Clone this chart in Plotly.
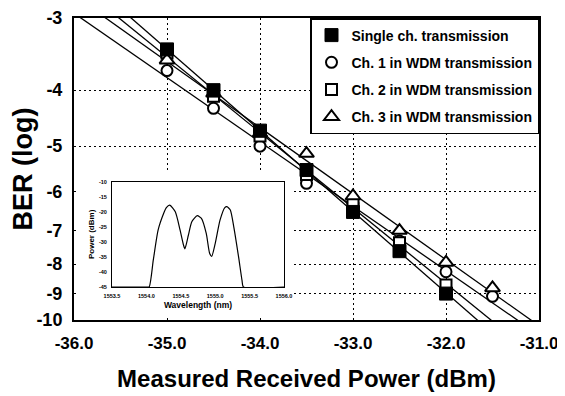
import numpy as np
import plotly.graph_objects as go

# ---------------- data ----------------
power_single = [-35.0, -34.5, -34.0, -33.5, -33.0, -32.5, -32.0]
ber_single = [-3.4, -4.0, -4.7, -5.5, -6.5, -7.6, -9.0]

power_ch1 = [-35.0, -34.5, -34.0, -33.5, -33.0, -32.5, -32.0, -31.5]
ber_ch1 = [-3.7, -4.3, -5.0, -5.8, -6.3, -7.3, -8.25, -9.1]

power_ch2 = [-35.0, -34.5, -34.0, -33.5, -33.0, -32.5, -32.0]
ber_ch2 = [-3.45, -4.1, -4.8, -5.6, -6.3, -7.35, -8.7]

power_ch3 = [-35.0, -34.5, -34.0, -33.5, -33.0, -32.5, -32.0, -31.5]
ber_ch3 = [-3.55, -4.05, -4.75, -5.15, -6.1, -7.0, -7.95, -8.8]

series_names = ["Single ch. transmission", "Ch. 1 in WDM transmission",
                "Ch. 2 in WDM transmission", "Ch. 3 in WDM transmission"]

y_tick_values = [-3, -4, -5, -6, -7, -8, -9, -10]
x_tick_values = [-36.0, -35.0, -34.0, -33.0, -32.0, -31.0]

# inset spectrum
wavelength_nm = [1553.5, 1554.0, 1554.04, 1554.10, 1554.17, 1554.25, 1554.29, 1554.34,
                 1554.42, 1554.49, 1554.54, 1554.56, 1554.61, 1554.66, 1554.74, 1554.80,
                 1554.87, 1554.92, 1554.95, 1555.00, 1555.07, 1555.14, 1555.17, 1555.22,
                 1555.27, 1555.34, 1555.39, 1555.41, 1556.0]
power_dbm = [-45, -45, -45, -36.1, -26.1, -20.6, -18.6, -17.8,
             -20.0, -26.1, -31.1, -32.3, -27.8, -23.3, -21.3, -22.2,
             -27.2, -33.9, -34.8, -30.6, -22.8, -18.6, -18.3, -19.4,
             -25.0, -35.0, -42.8, -45, -45]
inset_x_ticks = [1553.5, 1554.0, 1554.5, 1555.0, 1555.5, 1556.0]
inset_y_ticks = [-10, -15, -20, -25, -30, -35, -40, -45]

FONT = "Arial, Liberation Sans, sans-serif"

fig = go.Figure()

powers = [power_single, power_ch1, power_ch2, power_ch3]
bers = [ber_single, ber_ch1, ber_ch2, ber_ch3]

# fitted lines (linear fit in the axis' own transformed space)
for p, b in zip(powers, bers):
    t = np.log10(-np.array(b, dtype=float))
    k, c = np.polyfit(np.array(p, dtype=float), t, 1)
    xs = np.array([-37.0, -30.0])
    ys = 10 ** (k * xs + c)
    fig.add_trace(go.Scatter(x=xs, y=ys, mode="lines",
                             line=dict(color="black", width=1.3),
                             showlegend=False, hoverinfo="skip"))

marker_styles = [
    dict(symbol="square", size=13, color="black", line=dict(color="black", width=1)),
    dict(symbol="circle", size=11, color="white", line=dict(color="black", width=2)),
    dict(symbol="square", size=11, color="white", line=dict(color="black", width=2)),
    dict(symbol="triangle-up", size=13, color="white", line=dict(color="black", width=2)),
]
draw_order = [1, 2, 3, 0]
for i in draw_order:
    fig.add_trace(go.Scatter(x=powers[i], y=[-v for v in bers[i]], mode="markers",
                             name=series_names[i], marker=marker_styles[i],
                             legendrank=i + 1, legendgroup=f"g{i}"))

# white cover behind the inset (hides main grid)
fig.add_trace(go.Scatter(x=[None], y=[None], xaxis="x2", yaxis="y2",
                         showlegend=False, hoverinfo="skip"))

# inset spectrum
fig.add_trace(go.Scatter(x=wavelength_nm, y=power_dbm, xaxis="x3", yaxis="y3",
                         mode="lines", line=dict(color="black", width=1.2, shape="spline", smoothing=0.6),
                         showlegend=False, hoverinfo="skip"))

# the page body adds an 8px offset, so the figure is 8px smaller and margins compensate
fig.update_layout(
    width=557, height=388,
    margin=dict(l=66, r=26, t=10, b=76),
    paper_bgcolor="white", plot_bgcolor="white",
    font=dict(family=FONT, color="black"),
    showlegend=True,
    legend=dict(x=1, y=1, xanchor="right", yanchor="top",
                bgcolor="white", bordercolor="black", borderwidth=1.5,
                font=dict(size=14, family=FONT, weight="bold"),
                traceorder="grouped", tracegroupgap=6,
                itemwidth=30),
    xaxis=dict(range=[-36, -31], tickvals=x_tick_values,
               ticktext=[f"{v:.1f}" for v in x_tick_values],
               showgrid=True, gridcolor="black", gridwidth=1.4, griddash="2px,3px",
               showline=True, linecolor="black", linewidth=2, mirror=True,
               zeroline=False, ticks="", ticklabelstandoff=7, automargin=False,
               tickfont=dict(size=17, family=FONT, weight="bold"),
               title=dict(text="Measured Received Power (dBm)", standoff=18,
                          font=dict(size=24, family=FONT, weight="bold"))),
    yaxis=dict(type="log", range=[1.0, float(np.log10(3))],
               tickvals=[-v for v in y_tick_values],
               ticktext=[str(v) for v in y_tick_values],
               showgrid=True, gridcolor="black", gridwidth=1.4, griddash="2px,3px",
               showline=True, linecolor="black", linewidth=2, mirror=True,
               zeroline=False, ticks="", ticklabelstandoff=6, automargin=False,
               tickfont=dict(size=18, family=FONT, weight="bold"),
               title=dict(text="BER (log)", standoff=6,
                          font=dict(size=27, family=FONT, weight="bold"))),
    xaxis2=dict(domain=[0.005, 0.471], anchor="y2", range=[0, 1], automargin=False,
                showgrid=False, zeroline=False, showline=False, showticklabels=False, ticks=""),
    yaxis2=dict(domain=[0.007, 0.487], anchor="x2", range=[0, 1], automargin=False,
                showgrid=False, zeroline=False, showline=False, showticklabels=False, ticks=""),
    xaxis3=dict(domain=[0.0817, 0.4516], anchor="y3", range=[1553.5, 1556.0],
                tickvals=inset_x_ticks, tickformat=".1f", automargin=False,
                showgrid=False, zeroline=False, showline=True, linecolor="black",
                linewidth=1, mirror=True, ticks="", ticklabelstandoff=3,
                tickfont=dict(size=5.5, family=FONT, weight="bold"),
                title=dict(text="Wavelength (nm)", standoff=4,
                           font=dict(size=8.5, family=FONT, weight="bold"))),
    yaxis3=dict(domain=[0.1093, 0.458], anchor="x3", range=[-45, -10],
                tickvals=inset_y_ticks, ticktext=[str(v) for v in inset_y_ticks],
                automargin=False,
                showgrid=False, zeroline=False, showline=True, linecolor="black",
                linewidth=1, mirror=True, ticks="", ticklabelstandoff=3,
                tickfont=dict(size=5.5, family=FONT, weight="bold"),
                title=dict(text="Power (dBm)", standoff=3,
                           font=dict(size=8, family=FONT, weight="bold"))),
)

fig.write_html("out.html")
